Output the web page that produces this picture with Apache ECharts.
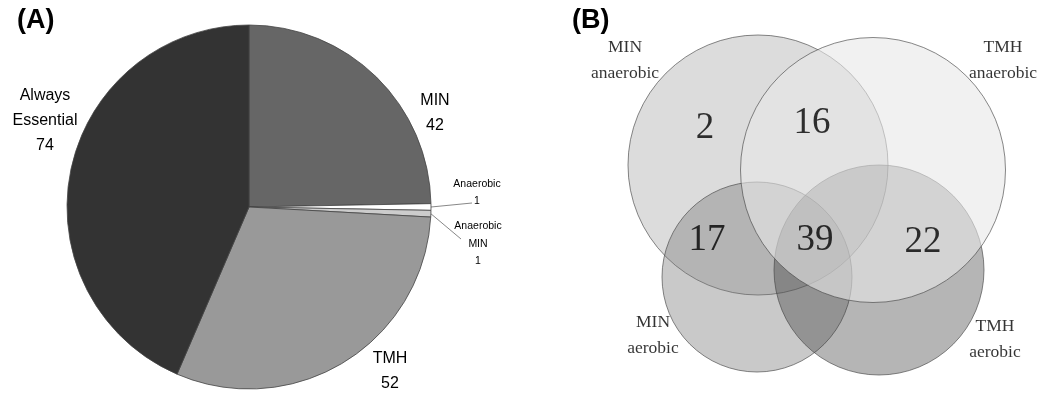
<!DOCTYPE html>
<html>
<head>
<meta charset="utf-8">
<script src="https://cdn.jsdelivr.net/npm/echarts@6/dist/echarts.min.js"></script>
<style>
html,body{margin:0;padding:0;background:#fff;}
#c{width:1045px;height:396px;}
</style>
</head>
<body>
<div id="c"></div>
<script>
// ---- Panel A data (pie) ----
const pieNames = ['MIN', 'Anaerobic', 'Anaerobic\nMIN', 'TMH', 'Always\nEssential'];
const pieValues = [42, 1, 1, 52, 74];

// ---- Panel B data (Venn) ----
const vennSets = ['MIN anaerobic', 'MIN aerobic', 'TMH aerobic', 'TMH anaerobic'];
const vennCx = [198, 197, 319, 313];
const vennCy = [165, 277, 270, 170];
const vennR  = [130, 95, 105, 132.5];
const regionCounts = [2, 16, 17, 39, 22];
const regionX = [145, 252, 147, 255, 363];
const regionY = [128, 123, 240, 240, 242];
const setLabels = ['MIN\nanaerobic', 'MIN\naerobic', 'TMH\naerobic', 'TMH\nanaerobic'];
const setLabelX = [65, 93, 435, 443];
const setLabelY = [60, 335, 339, 60];

// ---- styles ----
const pieColors = ['#666666', '#ffffff', '#cccccc', '#999999', '#333333'];
const pieLabelPos = [[435, 113.5], [477, 192.5], [478, 244], [390, 371], [45, 121]];
const pieLineEnd = [null, [-5, 10.5], [-17, -5], null, null];
const vennFill = ['#b9b9b9', '#787878', '#3c3c3c', '#e8e8e8'];
const vennOpacity = [0.5, 0.4, 0.38, 0.6];

const chart = echarts.init(document.getElementById('c'), null, {renderer: 'canvas'});

const pieData = pieNames.map((n, i) => {
  const small = pieValues[i] < 5;
  return {
    name: n,
    value: pieValues[i],
    itemStyle: {color: pieColors[i]},
    label: small ? {fontSize: 10.5, lineHeight: 17.5} : {fontSize: 16, lineHeight: 25},
    labelLine: {show: small, lineStyle: {color: '#888', width: 1}}
  };
});

const circleData = vennSets.map((s, i) => [vennCx[i], vennCy[i], vennR[i], i]);
const regionData = regionCounts.map((c, i) => [regionX[i], regionY[i], c]);
const setLabelData = setLabels.map((t, i) => ({value: [setLabelX[i], setLabelY[i]], name: t}));

chart.setOption({
  animation: false,
  backgroundColor: '#ffffff',
  title: [
    {text: '(A)', left: 17, top: 7, padding: 0,
     textStyle: {fontFamily: 'Liberation Sans', fontWeight: 'bold', fontSize: 27, color: '#000'}},
    {text: '(B)', left: 572, top: 7, padding: 0,
     textStyle: {fontFamily: 'Liberation Sans', fontWeight: 'bold', fontSize: 27, color: '#000'}}
  ],
  grid: {left: 560, top: 0, width: 485, height: 396, show: false},
  xAxis: {type: 'value', min: 0, max: 485, show: false},
  yAxis: {type: 'value', min: 0, max: 396, inverse: true, show: false},
  series: [
    {
      type: 'pie',
      center: [249, 207],
      radius: 182,
      startAngle: 90,
      clockwise: true,
      avoidLabelOverlap: false,
      itemStyle: {borderColor: '#444', borderWidth: 0.8},
      label: {
        show: true,
        position: 'outside',
        formatter: '{b}\n{c}',
        fontFamily: 'Liberation Sans',
        color: '#000',
        align: 'center'
      },
      labelLine: {length: 5, length2: 5},
      labelLayout: function (p) {
        const pos = pieLabelPos[p.dataIndex];
        const res = {x: pos[0], y: pos[1], align: 'center', verticalAlign: 'middle'};
        const off = pieLineEnd[p.dataIndex];
        if (off && p.labelLinePoints) {
          res.labelLinePoints = [p.labelLinePoints[0], [pos[0] + off[0], pos[1] + off[1]]];
        }
        return res;
      },
      emphasis: {disabled: true},
      data: pieData
    },
    {
      type: 'custom',
      coordinateSystem: 'cartesian2d',
      silent: true,
      renderItem: function (params, api) {
        const c = api.coord([api.value(0), api.value(1)]);
        const r = api.size([api.value(2), 0])[0];
        const i = api.value(3);
        return {
          type: 'circle',
          shape: {cx: c[0], cy: c[1], r: r},
          style: {
            fill: vennFill[i],
            opacity: 1,
            fillOpacity: vennOpacity[i],
            stroke: '#444',
            lineWidth: 0.8,
            strokeOpacity: 0.8
          }
        };
      },
      data: circleData
    },
    {
      type: 'scatter',
      symbolSize: 0,
      silent: true,
      label: {
        show: true, position: 'inside',
        formatter: p => String(p.value[2]),
        fontFamily: 'Liberation Serif', fontSize: 37, color: '#000'
      },
      data: regionData,
      z: 5
    },
    {
      type: 'scatter',
      symbolSize: 0,
      silent: true,
      label: {
        show: true, position: 'inside',
        formatter: p => p.name,
        fontFamily: 'Liberation Serif', fontSize: 17.5, lineHeight: 26, color: '#000'
      },
      data: setLabelData,
      z: 5
    }
  ]
});
</script>
</body>
</html>
